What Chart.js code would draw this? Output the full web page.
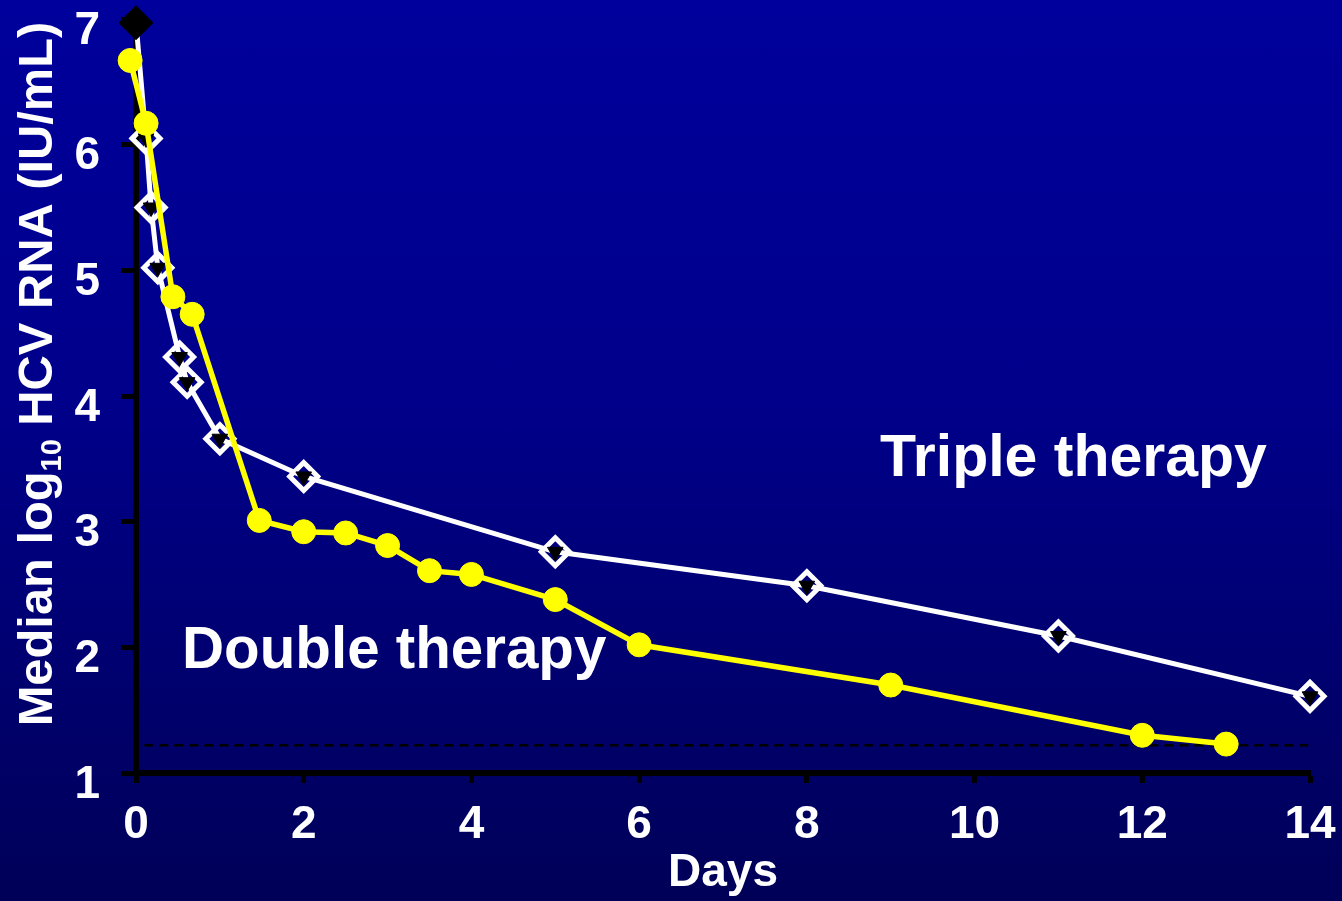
<!DOCTYPE html>
<html>
<head>
<meta charset="utf-8">
<script src="https://cdn.jsdelivr.net/npm/chart.js@4/dist/chart.umd.min.js"></script>
<style>
  html, body { margin: 0; padding: 0; overflow: hidden; }
  body {
    width: 1342px; height: 901px;
    background: linear-gradient(to bottom, #00009c 0%, #00008a 45%, #000058 100%);
  }
  canvas { display: block; }
</style>
</head>
<body>
<canvas id="chart" width="1342" height="901"></canvas>
<script>
// Median viral load over the first two weeks of treatment
const tripleDays = [0, 0.12, 0.18, 0.26, 0.52, 0.61, 1, 2, 5, 8, 11, 14];
const tripleRNA  = [6.97, 6.05, 5.5, 5.02, 4.31, 4.11, 3.66, 3.36, 2.76, 2.49, 2.09, 1.61];

const doubleDays = [-0.07, 0.12, 0.44, 0.67, 1.47, 2, 2.5, 3, 3.5, 4, 5, 6, 9, 12, 13];
const doubleRNA  = [6.67, 6.17, 4.79, 4.65, 3.01, 2.92, 2.91, 2.81, 2.61, 2.58, 2.38, 2.02, 1.70, 1.30, 1.23];

// Lower limit of quantification
const limitDays = [0.1, 14];
const limitRNA  = [1.22, 1.22];

const xTickValues = [0, 2, 4, 6, 8, 10, 12, 14];
const yTickValues = [1, 2, 3, 4, 5, 6, 7];

const seriesNames = ['Triple therapy', 'Double therapy'];
const xTitle = 'Days';
const yTitleParts = ['Median log', '10', ' HCV RNA (IU/mL)'];

const FONT = "'Liberation Sans', Arial, Helvetica, sans-serif";

const pts = (xs, ys) => xs.map((x, i) => ({ x, y: ys[i] }));

// Rotated axis title with a subscript, plus the in-plot series labels
const textPlugin = {
  id: 'textLayer',
  afterDraw(chart) {
    const ctx = chart.ctx;
    ctx.save();
    ctx.fillStyle = '#ffffff';
    ctx.textBaseline = 'alphabetic';
    ctx.textAlign = 'left';

    // y-axis title
    const big = 'bold 48.8px ' + FONT;
    const small = 'bold 29px ' + FONT;
    ctx.font = big;
    const w0 = ctx.measureText(yTitleParts[0]).width;
    const w2 = ctx.measureText(yTitleParts[2]).width;
    ctx.font = small;
    const w1 = ctx.measureText(yTitleParts[1]).width;
    const total = w0 + w1 + w2;
    ctx.translate(52, 374);
    ctx.rotate(-Math.PI / 2);
    let x = -total / 2;
    ctx.font = big;
    ctx.fillText(yTitleParts[0], x, 0);
    x += w0;
    ctx.font = small;
    ctx.fillText(yTitleParts[1], x, 9);
    x += w1;
    ctx.font = big;
    ctx.fillText(yTitleParts[2], x, 0);
    ctx.restore();

    // series labels
    ctx.save();
    ctx.fillStyle = '#ffffff';
    ctx.textBaseline = 'alphabetic';
    ctx.textAlign = 'left';
    ctx.font = 'bold 59px ' + FONT;
    ctx.fillText(seriesNames[0], 880, 476);
    ctx.font = 'bold 58.3px ' + FONT;
    ctx.fillText(seriesNames[1], 182, 668);
    ctx.restore();
  }
};

const tickFont = { family: FONT, size: 46, weight: 'bold' };

new Chart(document.getElementById('chart'), {
  type: 'scatter',
  data: {
    datasets: [
      {
        label: seriesNames[1],
        data: pts(doubleDays, doubleRNA),
        showLine: true,
        borderColor: '#ffff00',
        borderWidth: 5.5,
        pointStyle: 'circle',
        pointRadius: 12,
        pointBackgroundColor: '#ffff00',
        pointBorderColor: '#ffff00',
        pointBorderWidth: 1,
        clip: false,
        order: 0
      },
      {
        label: seriesNames[0] + ' inner',
        data: pts(tripleDays, tripleRNA),
        showLine: false,
        pointStyle: 'triangle',
        pointRotation: 180,
        pointRadius: 9,
        pointBackgroundColor: '#000000',
        pointBorderColor: '#000000',
        pointBorderWidth: 1,
        clip: false,
        order: 1
      },
      {
        label: seriesNames[0],
        data: pts(tripleDays, tripleRNA),
        showLine: true,
        borderColor: '#ffffff',
        borderWidth: 5,
        pointStyle: 'rectRot',
        pointRadius: 14,
        pointBackgroundColor: (c) => c.dataIndex === 0 ? '#000000' : 'rgba(0,0,0,0)',
        pointBorderColor: (c) => c.dataIndex === 0 ? '#000000' : '#ffffff',
        pointBorderWidth: 5,
        clip: false,
        order: 2
      },
      {
        label: 'limit',
        data: pts(limitDays, limitRNA),
        showLine: true,
        borderColor: '#000000',
        borderWidth: 2.5,
        borderDash: [9, 6],
        pointRadius: 0,
        clip: false,
        order: 3
      }
    ]
  },
  options: {
    responsive: false,
    animation: false,
    devicePixelRatio: 1,
    layout: { padding: { top: 16, right: 32, bottom: 0, left: 0 } },
    plugins: {
      legend: { display: false },
      tooltip: { enabled: false }
    },
    scales: {
      x: {
        type: 'linear',
        min: 0,
        max: 14,
        afterBuildTicks: (s) => { s.ticks = xTickValues.map(v => ({ value: v })); },
        afterFit: (s) => { s.height = 128; s.paddingLeft = 0; s.paddingRight = 0; },
        ticks: {
          color: '#ffffff',
          font: tickFont,
          padding: 15,
          maxRotation: 0,
          autoSkip: false
        },
        grid: {
          drawOnChartArea: false,
          drawTicks: true,
          tickLength: 10,
          tickWidth: 5,
          color: '#000000'
        },
        border: { display: true, color: '#000000', width: 6 },
        title: {
          display: true,
          text: xTitle,
          color: '#ffffff',
          font: { family: FONT, size: 46, weight: 'bold' },
          padding: { top: 0, bottom: 0 }
        }
      },
      y: {
        type: 'linear',
        min: 1,
        max: 7,
        afterBuildTicks: (s) => { s.ticks = yTickValues.map(v => ({ value: v })); },
        afterFit: (s) => { s.width = 136; s.paddingTop = 0; s.paddingBottom = 0; },
        ticks: {
          color: '#ffffff',
          font: tickFont,
          padding: 21,
          labelOffset: 12,
          autoSkip: false
        },
        grid: {
          drawOnChartArea: false,
          drawTicks: true,
          tickLength: 15,
          tickWidth: 5,
          color: '#000000'
        },
        border: { display: true, color: '#000000', width: 6 }
      }
    }
  },
  plugins: [textPlugin]
});
</script>
</body>
</html>
